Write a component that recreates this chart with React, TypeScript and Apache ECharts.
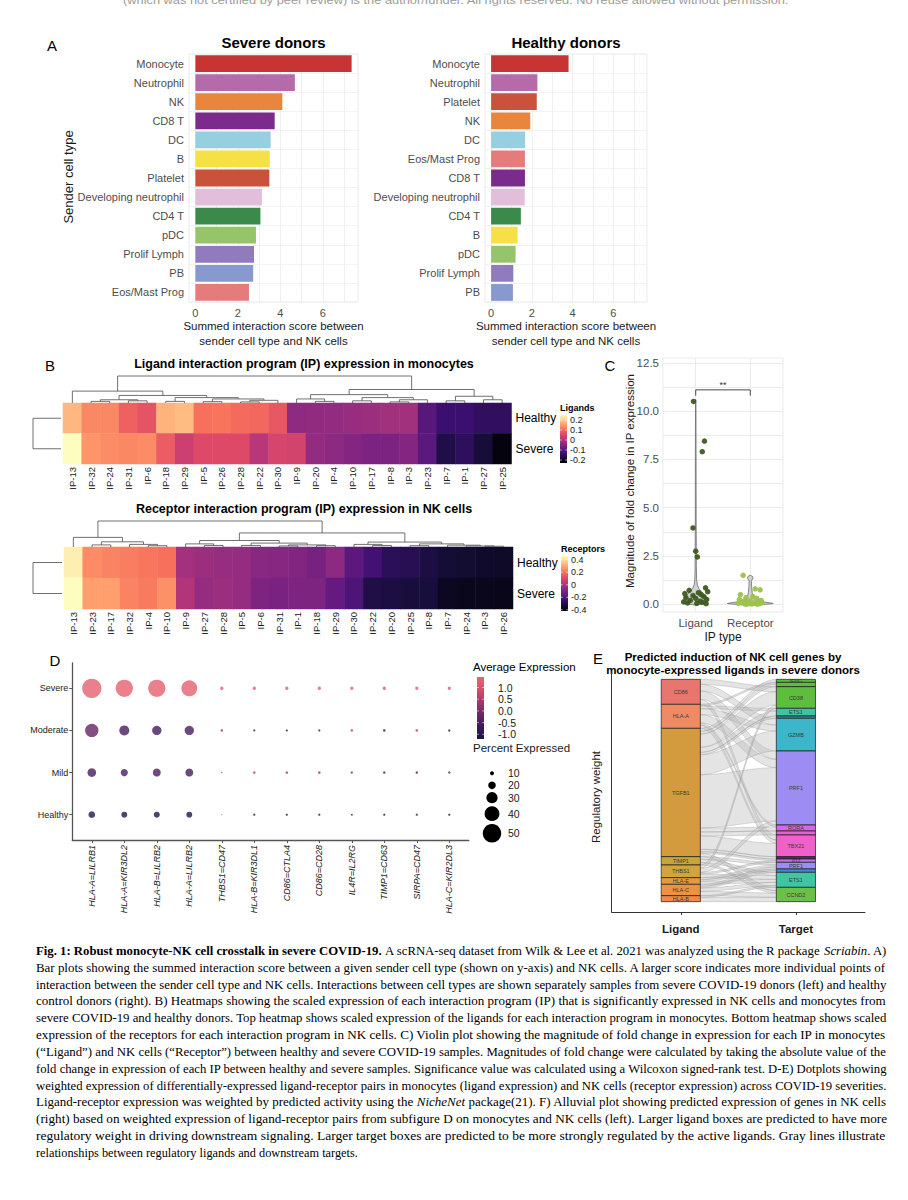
import React, { useEffect, useRef } from "react";
import * as echarts from "echarts";

const SANS = "'Liberation Sans', Arial, Helvetica, sans-serif";
const SERIF = "'Liberation Serif', 'Times New Roman', Times, serif";

// ---------------- Panel A ----------------
const severeCells = ["Monocyte", "Neutrophil", "NK", "CD8 T", "DC", "B", "Platelet", "Developing neutrophil", "CD4 T", "pDC", "Prolif Lymph", "PB", "Eos/Mast Prog"];
const severeScores = [7.35, 4.68, 4.09, 3.73, 3.54, 3.5, 3.48, 3.13, 3.06, 2.85, 2.76, 2.72, 2.52];
const healthyCells = ["Monocyte", "Neutrophil", "Platelet", "NK", "DC", "Eos/Mast Prog", "CD8 T", "Developing neutrophil", "CD4 T", "B", "pDC", "Prolif Lymph", "PB"];
const healthyScores = [3.8, 2.27, 2.24, 1.92, 1.67, 1.66, 1.66, 1.65, 1.46, 1.3, 1.2, 1.09, 1.07];
const cellColors: Record<string, string> = {
  Monocyte: "#c83434", Neutrophil: "#b56aa9", NK: "#e8863e", "CD8 T": "#7a2b8b", DC: "#96cfe0",
  B: "#f5e146", Platelet: "#c8533a", "Developing neutrophil": "#e1bfdb", "CD4 T": "#3b8a4b",
  pDC: "#96c46b", "Prolif Lymph": "#8f7bbd", PB: "#8899d0", "Eos/Mast Prog": "#e57b7b",
};
const scoreTicks = [0, 2, 4, 6];
const scoreGrid = [0, 1, 2, 3, 4, 5, 6, 7];

// ---------------- Panel B ----------------
const ligandIPs = ["IP-13", "IP-32", "IP-24", "IP-31", "IP-6", "IP-18", "IP-29", "IP-5", "IP-26", "IP-28", "IP-22", "IP-30", "IP-9", "IP-20", "IP-4", "IP-10", "IP-17", "IP-8", "IP-3", "IP-23", "IP-7", "IP-1", "IP-27", "IP-25"];
const ligandHealthy = [0.178, 0.13, 0.13, 0.087, 0.072, 0.173, 0.183, 0.106, 0.11, 0.1, 0.096, 0.077, -0.035, -0.032, -0.03, -0.025, -0.02, -0.015, -0.015, -0.1, -0.134, -0.134, -0.148, -0.148];
const ligandSevere = [0.25, 0.144, 0.135, 0.13, 0.135, 0.082, 0.034, 0.058, 0.058, 0.058, 0.01, 0.048, 0.044, -0.03, -0.038, -0.048, -0.057, -0.057, -0.048, -0.096, -0.168, -0.15, -0.18, -0.22];
const ligandRange = [-0.23, 0.25];
const ligandTicks = [0.2, 0.1, 0, -0.1, -0.2];

const receptorIPs = ["IP-13", "IP-23", "IP-17", "IP-32", "IP-4", "IP-10", "IP-9", "IP-27", "IP-28", "IP-5", "IP-6", "IP-31", "IP-1", "IP-18", "IP-29", "IP-30", "IP-22", "IP-20", "IP-25", "IP-8", "IP-7", "IP-24", "IP-3", "IP-26"];
const receptorHealthy = [0.434, 0.249, 0.231, 0.222, 0.205, 0.196, -0.02, -0.035, -0.045, -0.05, -0.075, -0.08, -0.09, -0.115, -0.065, -0.174, -0.226, -0.279, -0.288, -0.314, -0.332, -0.341, -0.35, -0.358];
const receptorSevere = [0.46, 0.284, 0.284, 0.231, 0.214, 0.258, 0.01, -0.05, -0.035, -0.05, -0.1, -0.108, -0.1, -0.1, -0.156, -0.2, -0.306, -0.314, -0.323, -0.323, -0.367, -0.376, -0.376, -0.385];
const receptorRange = [-0.42, 0.46];
const receptorTicks = [0.4, 0.2, 0, -0.2, -0.4];
const heatRows = ["Healthy", "Severe"];

type Tree = number | [number, Tree, Tree];
const ligandTree: Tree = [1,
  [0.44, 0, [0.28, [0.12, [0.06, 1, 2], [0.08, 3, 4]], [0.2, [0.06, 5, 6], [0.15, [0.05, 7, 8], [0.1, [0.04, 9, 10], 11]]]]],
  [0.5, [0.31, [0.15, 12, [0.06, 13, 14]], [0.2, [0.08, 15, 16], [0.12, [0.04, 17, 18], 19]]], [0.25, [0.08, 20, 21], [0.12, 22, 23]]],
];
const receptorTree: Tree = [1,
  [0.37, 0, [0.2, [0.08, 1, 2], [0.1, 3, [0.05, 4, 5]]]],
  [0.54, [0.25, [0.12, 6, [0.06, 7, 8]], [0.15, [0.06, 9, 10], [0.08, [0.04, 11, 12], [0.05, 13, 14]]]],
    [0.19, [0.1, 15, [0.06, 16, 17]], [0.12, [0.05, 18, 19], [0.07, 20, [0.04, 21, [0.03, 22, 23]]]]]],
];

const MAGMA = ["#000004", "#140e36", "#3b0f70", "#641a80", "#8c2981", "#b73779", "#de4968", "#f7705c", "#fe9f6d", "#fecf92", "#fcfdbf"];

// ---------------- Panel C ----------------
const ipTypes = ["Ligand", "Receptor"];
const ligandFC = [10.5, 8.45, 7.9, 3.95, 2.75, 2.45, 0.85, 0.72, 0.65, 0.6, 0.55, 0.5, 0.45, 0.4, 0.35, 0.3, 0.25, 0.2, 0.16, 0.12, 0.1, 0.07, 0.05, 0.03];
const ligandJitter = [-0.04, 0.16, 0.12, -0.05, 0.0, 0.03, 0.18, -0.12, 0.22, 0.05, -0.2, 0.1, -0.05, 0.15, -0.18, 0.0, 0.2, -0.1, 0.08, -0.22, 0.12, -0.15, 0.02, 0.19];
const receptorFC = [1.5, 0.8, 0.75, 0.5, 0.4, 0.35, 0.3, 0.25, 0.2, 0.18, 0.15, 0.12, 0.1, 0.08, 0.07, 0.06, 0.05, 0.04, 0.03, 0.03, 0.02, 0.02, 0.01, 0.01];
const receptorJitter = [-0.13, 0.09, 0.18, -0.18, 0.05, -0.08, 0.12, -0.2, 0.2, 0.0, -0.12, 0.15, -0.05, 0.22, -0.16, 0.07, -0.22, 0.1, -0.02, 0.17, -0.1, 0.03, 0.13, -0.07];
// violin half-width profiles [value, half width in category units]
const ligandViolin = [[-0.05, 0], [0, 0.1], [0.1, 0.19], [0.25, 0.22], [0.4, 0.19], [0.6, 0.12], [0.8, 0.06], [1.0, 0.03], [1.3, 0.016], [2, 0.011], [3, 0.01], [4, 0.008], [6, 0.007], [8, 0.006], [10.5, 0.004], [10.6, 0]];
const receptorViolin = [[-0.03, 0], [0, 0.3], [0.04, 0.42], [0.08, 0.35], [0.15, 0.15], [0.25, 0.08], [0.4, 0.05], [0.6, 0.035], [0.9, 0.025], [1.2, 0.02], [1.35, 0.05], [1.45, 0.04], [1.5, 0]];
const fcLabelTicks = [0, 2.5, 5, 7.5, 10, 12.5];
const fcGridTicks = [0, 1.25, 2.5, 3.75, 5, 6.25, 7.5, 8.75, 10, 11.25, 12.5];

// ---------------- Panel D ----------------
const pairs = ["HLA-A=LILRB1", "HLA-A=KIR3DL2", "HLA-B=LILRB2", "HLA-A=LILRB2", "THBS1=CD47", "HLA-B=KIR3DL1", "CD86=CTLA4", "CD86=CD28", "IL4R=IL2RG", "TIMP1=CD63", "SIRPA=CD47", "HLA-C=KIR2DL3"];
const severities = ["Healthy", "Mild", "Moderate", "Severe"];
const pctHealthy = [17.5, 15.5, 15.5, 15.5, 1.5, 5, 5, 5, 4, 5, 5, 5];
const pctMild = [23, 19, 21, 21, 2.5, 6, 6.5, 6.5, 5, 6, 6, 5.5];
const pctModerate = [36, 26.7, 24.7, 24.7, 6, 5, 5, 5, 6.5, 6, 6.5, 5.5];
const pctSevere = [52.5, 47, 47, 43, 8.5, 8.5, 8.5, 8.5, 8, 8.5, 8, 8];
const exprHealthy = [-1.05, -1.1, -1.1, -1.1, -0.8, -0.9, -0.9, -0.9, -0.9, -1.0, -0.9, -1.0];
const exprMild = [-0.55, -0.55, -0.5, -0.55, 0.3, 0.4, 0.6, 0.5, -0.3, -0.4, -0.3, -0.3];
const exprModerate = [-0.25, -0.55, -0.6, -0.55, 0.3, -0.7, -0.7, -0.7, 0.8, -0.75, 0.7, -0.8];
const exprSevere = [1.35, 1.35, 1.35, 1.35, 1.3, 1.3, 1.3, 1.3, 1.3, 1.3, 1.3, 1.3];
const exprRange = [-1.2, 1.45];
const exprTicks = [1.0, 0.5, 0.0, -0.5, -1.0];
const pctTicks = [10, 20, 30, 40, 50];
const DOT_COLORS = ["#1a1445", "#3d1a5b", "#6e2667", "#a8366d", "#d4506e", "#e8646e"];

// ---------------- Panel E ----------------
const ligands = ["CD86", "HLA-A", "TGFB1", "TIMP1", "THBS1", "HLA-E", "HLA-C", "HLA-B"];
const ligandColors = ["#e8766f", "#ee8b65", "#d39b3d", "#c8a53c", "#d3a43d", "#e49a3e", "#ec9240", "#ee8a4c"];
const targets = ["IFNG", "", "CD38", "ETS1", "", "GZMB", "PRF1", "RORA", "", "TBX21", "", "ID2", "PRF1", "", "ETS1", "CCND2"];
const targetColors = ["#5dbe3d", "#5dbe3d", "#5dbe3d", "#3ec49f", "#2f8e95", "#3db5cb", "#9d8df2", "#dc63e6", "#e060d6", "#ef61c9", "#6b2381", "#c070e0", "#9d8df2", "#3d8bd6", "#3ec6a3", "#6bc147"];
// [ligand index, target index, regulatory weight]
const flows: [number, number, number][] = [
  [0, 2, 15], [0, 5, 20], [0, 6, 25], [0, 9, 15],
  [1, 1, 5], [1, 3, 8], [1, 5, 18], [1, 6, 25], [1, 7, 6], [1, 9, 10],
  [2, 0, 9], [2, 1, 8], [2, 2, 40], [2, 3, 15], [2, 4, 7], [2, 5, 60], [2, 6, 160], [2, 7, 12], [2, 8, 12], [2, 9, 40], [2, 10, 7], [2, 11, 5], [2, 15, 10],
  [3, 12, 8], [3, 14, 10], [3, 15, 7],
  [4, 2, 10], [4, 6, 12], [4, 11, 5], [4, 14, 11],
  [5, 12, 6], [5, 13, 5], [5, 14, 9],
  [6, 12, 6], [6, 13, 5], [6, 14, 10], [6, 15, 13],
  [7, 14, 5], [7, 15, 13],
];

// ---------------- Caption ----------------
const NB = "\u00a0";
const captionLines: [string, string][][] = [
  [["b", "Fig. 1: Robust monocyte-NK cell crosstalk in severe COVID-19."], ["n", NB + "A scRNA-seq dataset from Wilk & Lee et al. 2021 was analyzed using the R package" + NB], ["i", "Scriabin"], ["n", ". A)"]],
  [["n", "Bar plots showing the summed interaction score between a given sender cell type (shown on y-axis) and NK cells. A larger score indicates more individual points of"]],
  [["n", "interaction between the sender cell type and NK cells. Interactions between cell types are shown separately samples from severe COVID-19 donors (left) and healthy"]],
  [["n", "control donors (right). B) Heatmaps showing the scaled expression of each interaction program (IP) that is significantly expressed in NK cells and monocytes from"]],
  [["n", "severe COVID-19 and healthy donors. Top heatmap shows scaled expression of the ligands for each interaction program in monocytes. Bottom heatmap shows scaled"]],
  [["n", "expression of the receptors for each interaction program in NK cells. C) Violin plot showing the magnitude of fold change in expression for each IP in monocytes"]],
  [["n", "(\u201cLigand\u201d) and NK cells (\u201cReceptor\u201d) between healthy and severe COVID-19 samples. Magnitudes of fold change were calculated by taking the absolute value of the"]],
  [["n", "fold change in expression of each IP between healthy and severe samples. Significance value was calculated using a Wilcoxon signed-rank test. D-E) Dotplots showing"]],
  [["n", "weighted expression of differentially-expressed ligand-receptor pairs in monocytes (ligand expression) and NK cells (receptor expression) across COVID-19 severities."]],
  [["n", "Ligand-receptor expression was weighted by predicted activity using the" + NB], ["i", "NicheNet"], ["n", NB + "package(21). F) Alluvial plot showing predicted expression of genes in NK cells"]],
  [["n", "(right) based on weighted expression of ligand-receptor pairs from subfigure D on monocytes and NK cells (left). Larger ligand boxes are predicted to have more"]],
  [["n", "regulatory weight in driving downstream signaling. Larger target boxes are predicted to be more strongly regulated by the active ligands. Gray lines illustrate"]],
  [["n", "relationships between regulatory ligands and downstream targets."]],
];
const headerText = "(which was not certified by peer review) is the author/funder. All rights reserved. No reuse allowed without permission.";

function layoutTree(n: Tree, segs: number[][][]): { x: number; h: number } {
  if (typeof n === "number") return { x: n, h: 0 };
  const [h, l, r] = n;
  const a = layoutTree(l, segs);
  const b = layoutTree(r, segs);
  segs.push([[a.x, a.h], [a.x, h], [b.x, h], [b.x, b.h]]);
  return { x: (a.x + b.x) / 2, h };
}

function polySeries(idx: number, segs: number[][][], color: string, width: number) {
  return {
    type: "custom", xAxisIndex: idx, yAxisIndex: idx, silent: true, clip: false, data: [[0, 0]],
    renderItem: (_p: any, api: any) => ({
      type: "group",
      children: segs.map((s) => ({ type: "polyline", shape: { points: s.map((pt) => api.coord(pt)) }, style: { stroke: color, lineWidth: width, fill: "none" } })),
    }),
  };
}

function txt(text: string, x: number, y: number, o: any = {}) {
  const { rotation, scaleX, ...st } = o;
  const align = st.align || "left";
  const va = st.verticalAlign || "middle";
  return {
    type: "text", x, y, rotation: rotation || 0, scaleX: scaleX || 1, silent: true,
    style: { text, fontFamily: SANS, fontSize: 11, fill: "#1a1a1a", ...st, align, verticalAlign: va, textAlign: align, textVerticalAlign: va },
  };
}

function buildOption() {
  const ctx = document.createElement("canvas").getContext("2d") as CanvasRenderingContext2D;
  const measure = (t: string, font: string) => { ctx.font = font; return ctx.measureText(t).width; };

  const G = {
    aSev: { left: 189, top: 54, width: 169, height: 248 },
    aHea: { left: 485, top: 54, width: 162, height: 248 },
    bLig: { left: 63, top: 403, width: 448.5, height: 61 },
    bLigD: { left: 63, top: 376, width: 448.5, height: 27 },
    bRec: { left: 64, top: 547, width: 449, height: 62 },
    bRecD: { left: 64, top: 521, width: 449, height: 26 },
    c: { left: 663, top: 358, width: 120, height: 254 },
    d: { left: 72.3, top: 663, width: 396.5, height: 177 },
    e: { left: 611.7, top: 673, width: 253.3, height: 239 },
  };
  const grids = [G.aSev, G.aHea, G.bLig, G.bLigD, G.bRec, G.bRecD, G.c, G.d, G.e].map((g, i) => ({
    ...g, show: i === 0 || i === 1 || i === 6, borderColor: "#ebebeb", borderWidth: 1, backgroundColor: "transparent",
  }));

  const scoreX = (gi: number) => ({
    gridIndex: gi, type: "value", min: -0.3, max: 7.65,
    axisLine: { show: false }, axisTick: { show: false, customValues: scoreGrid },
    axisLabel: { customValues: scoreTicks, color: "#4d4d4d", fontSize: 11, fontFamily: SANS, margin: 5 },
    splitLine: { show: true, lineStyle: { color: "#ebebeb", width: 0.8 } },
    name: "Summed interaction score between\nsender cell type and NK cells", nameLocation: "middle", nameGap: 13,
    nameTextStyle: { color: "#1a1a1a", fontSize: 11.5, fontFamily: SANS, lineHeight: 14.6 },
  });
  const cellY = (gi: number, cells: string[]) => ({
    gridIndex: gi, type: "category", data: cells, inverse: true,
    axisLine: { show: false }, axisTick: { show: false },
    axisLabel: { color: "#4d4d4d", fontSize: 11, fontFamily: SANS, margin: 5, interval: 0 },
    splitLine: { show: true, interval: 0, lineStyle: { color: "#f0f0f0", width: 0.8 } },
  });
  const heatX = (gi: number, cols: string[]) => ({
    gridIndex: gi, type: "category", data: cols, axisLine: { show: false }, axisTick: { show: false },
    axisLabel: { rotate: 90, interval: 0, fontSize: 9.5, color: "#1a1a1a", fontFamily: SANS, margin: 3 }, splitLine: { show: false },
  });
  const heatY = (gi: number) => ({
    gridIndex: gi, type: "category", data: heatRows, inverse: true, position: "right",
    axisLine: { show: false }, axisTick: { show: false },
    axisLabel: { fontSize: 12, color: "#000", fontFamily: SANS, margin: 4 }, splitLine: { show: false },
  });
  const hidden = (gi: number, min: number, max: number) => ({ gridIndex: gi, type: "value", min, max, show: false, splitLine: { show: false } });
  const intLabel = (names: string[]) => (v: number) => (Math.abs(v - Math.round(v)) < 1e-6 ? names[Math.round(v) - 1] ?? "" : "");

  const xAxis: any[] = [
    scoreX(0), scoreX(1),
    heatX(2, ligandIPs), hidden(3, -0.5, 23.5),
    heatX(4, receptorIPs), hidden(5, -0.5, 23.5),
    {
      gridIndex: 6, type: "value", min: 0.4, max: 2.6, axisLine: { show: false },
      axisTick: { show: false, customValues: [1, 2] },
      axisLabel: { customValues: [1, 2], formatter: intLabel(ipTypes), fontSize: 11.5, color: "#4d4d4d", fontFamily: SANS, margin: 5 },
      splitLine: { show: true, lineStyle: { color: "#ebebeb" } },
      name: "IP type", nameLocation: "middle", nameGap: 19, nameTextStyle: { fontSize: 12, color: "#1a1a1a", fontFamily: SANS },
    },
    {
      gridIndex: 7, type: "value", min: 0.4, max: 12.6,
      axisLine: { show: true, onZero: false, lineStyle: { color: "#555", width: 1.3 } },
      axisTick: { show: true, customValues: pairs.map((_, i) => i + 1), length: 3, lineStyle: { color: "#555" } },
      axisLabel: { customValues: pairs.map((_, i) => i + 1), formatter: intLabel(pairs), rotate: 90, fontSize: 9, fontStyle: "italic", color: "#222", fontFamily: SANS, margin: 5 },
      splitLine: { show: false },
    },
    {
      gridIndex: 8, type: "value", min: 0.4, max: 2.6,
      axisLine: { show: true, onZero: false, lineStyle: { color: "#333", width: 1 } },
      axisTick: { show: true, customValues: [1, 2], length: 3, lineStyle: { color: "#333" } },
      axisLabel: { customValues: [1, 2], formatter: intLabel(["Ligand", "Target"]), fontSize: 11.5, fontWeight: "bold", color: "#1a1a1a", fontFamily: SANS, margin: 11 },
      splitLine: { show: false },
    },
  ];
  const yAxis: any[] = [
    cellY(0, severeCells), cellY(1, healthyCells),
    heatY(2), hidden(3, 0, 1),
    heatY(4), hidden(5, 0, 1),
    {
      gridIndex: 6, type: "value", min: -0.4, max: 12.75, axisLine: { show: false },
      axisTick: { show: false, customValues: fcGridTicks },
      axisLabel: { customValues: fcLabelTicks, formatter: (v: number) => v.toFixed(1), fontSize: 11.5, color: "#4d4d4d", fontFamily: SANS, margin: 4 },
      splitLine: { show: true, lineStyle: { color: "#ebebeb" } },
    },
    {
      gridIndex: 7, type: "value", min: 0.4, max: 4.6,
      axisLine: { show: true, onZero: false, lineStyle: { color: "#555", width: 1.3 } },
      axisTick: { show: true, customValues: [1, 2, 3, 4], length: 3, lineStyle: { color: "#555" } },
      axisLabel: { customValues: [1, 2, 3, 4], formatter: intLabel(severities), fontSize: 9, color: "#222", fontFamily: SANS, margin: 4 },
      splitLine: { show: false },
    },
    {
      gridIndex: 8, type: "value", min: -31, max: 686,
      axisLine: { show: true, onZero: false, lineStyle: { color: "#333", width: 1 } },
      axisTick: { show: false }, axisLabel: { show: false }, splitLine: { show: false },
    },
  ];

  const ligSegs: number[][][] = [];
  layoutTree(ligandTree, ligSegs);
  const recSegs: number[][][] = [];
  layoutTree(receptorTree, recSegs);

  // ---- alluvial geometry ----
  const ligH = ligands.map((_, i) => flows.filter((f) => f[0] === i).reduce((s, f) => s + f[2], 0));
  const tarH = targets.map((_, j) => flows.filter((f) => f[1] === j).reduce((s, f) => s + f[2], 0));
  const total = ligH.reduce((a, b) => a + b, 0);
  const ligTop: number[] = [];
  ligH.reduce((acc, h, i) => { ligTop[i] = acc; return acc - h; }, total);
  const tarTop: number[] = [];
  tarH.reduce((acc, h, j) => { tarTop[j] = acc; return acc - h; }, total);
  const geo = flows.map((f) => ({ f, lt: 0, lb: 0, rt: 0, rb: 0 }));
  const lcur = ligTop.slice();
  [...geo].sort((a, b) => a.f[0] - b.f[0] || a.f[1] - b.f[1]).forEach((g) => { g.lt = lcur[g.f[0]]; g.lb = g.lt - g.f[2]; lcur[g.f[0]] = g.lb; });
  const tcur = tarTop.slice();
  [...geo].sort((a, b) => a.f[1] - b.f[1] || a.f[0] - b.f[0]).forEach((g) => { g.rt = tcur[g.f[1]]; g.rb = g.rt - g.f[2]; tcur[g.f[1]] = g.rb; });
  const HW = 0.17;
  const boxes = [
    ...ligands.map((n, i) => ({ x: 1, top: ligTop[i], bottom: ligTop[i] - ligH[i], color: ligandColors[i], label: n })),
    ...targets.map((n, j) => ({ x: 2, top: tarTop[j], bottom: tarTop[j] - tarH[j], color: targetColors[j], label: n })),
  ];

  const dotSize = (p: number) => 0.36 * p + 0.4;
  const pctRows = [pctHealthy, pctMild, pctModerate, pctSevere];
  const exprRows = [exprHealthy, exprMild, exprModerate, exprSevere];
  const dotData: number[][] = [];
  pctRows.forEach((row, r) => row.forEach((p, c) => dotData.push([c + 1, r + 1, exprRows[r][c], p])));

  const series: any[] = [
    { type: "bar", xAxisIndex: 0, yAxisIndex: 0, silent: true, barCategoryGap: "12%", data: severeScores.map((v, i) => ({ value: v, itemStyle: { color: cellColors[severeCells[i]] } })) },
    { type: "bar", xAxisIndex: 1, yAxisIndex: 1, silent: true, barCategoryGap: "12%", data: healthyScores.map((v, i) => ({ value: v, itemStyle: { color: cellColors[healthyCells[i]] } })) },
    { type: "heatmap", xAxisIndex: 2, yAxisIndex: 2, silent: true, data: [...ligandHealthy.map((v, i) => [i, 0, v]), ...ligandSevere.map((v, i) => [i, 1, v])] },
    polySeries(3, ligSegs, "#4d4d4d", 0.8),
    { type: "heatmap", xAxisIndex: 4, yAxisIndex: 4, silent: true, data: [...receptorHealthy.map((v, i) => [i, 0, v]), ...receptorSevere.map((v, i) => [i, 1, v])] },
    polySeries(5, recSegs, "#4d4d4d", 0.8),
    {
      type: "custom", xAxisIndex: 6, yAxisIndex: 6, silent: true, clip: false, data: [[1, 0], [2, 0]], encode: { x: 0, y: 1 },
      renderItem: (_p: any, api: any) => {
        const g = api.value(0);
        const prof = g === 1 ? ligandViolin : receptorViolin;
        const right = prof.map(([y, w]) => api.coord([g + w, y]));
        const left = prof.slice().reverse().map(([y, w]) => api.coord([g - w, y]));
        return { type: "polygon", shape: { points: [...right, ...left] }, style: { fill: "rgba(200,200,200,0.8)", stroke: "#6b6b6b", lineWidth: 0.8 } };
      },
    },
    { type: "scatter", xAxisIndex: 6, yAxisIndex: 6, silent: true, clip: false, symbolSize: 5.5, itemStyle: { color: "#3d5a1f", opacity: 0.95 }, data: ligandFC.map((v, i) => [1 + ligandJitter[i], v]) },
    { type: "scatter", xAxisIndex: 6, yAxisIndex: 6, silent: true, clip: false, symbolSize: 5.5, itemStyle: { color: "#9dc24f", opacity: 0.95 }, data: receptorFC.map((v, i) => [2 + receptorJitter[i], v]) },
    {
      type: "custom", xAxisIndex: 6, yAxisIndex: 6, silent: true, clip: false, data: [[0, 0]],
      renderItem: (_p: any, api: any) => {
        const pts = [[1, 10.8], [1, 11.1], [2, 11.1], [2, 10.8]].map((p) => api.coord(p));
        const t = api.coord([1.5, 11.1]);
        return {
          type: "group", children: [
            { type: "polyline", shape: { points: pts }, style: { stroke: "#333", lineWidth: 0.9, fill: "none" } },
            { type: "text", x: t[0], y: t[1] - 5, style: { text: "**", fontSize: 9, fontFamily: SANS, fill: "#333", align: "center", verticalAlign: "middle", textAlign: "center", textVerticalAlign: "middle" } },
          ],
        };
      },
    },
    { type: "scatter", xAxisIndex: 7, yAxisIndex: 7, silent: true, clip: false, data: dotData, symbolSize: (v: number[]) => dotSize(v[3]) },
    {
      type: "custom", xAxisIndex: 8, yAxisIndex: 8, silent: true, clip: false, data: [[0, 0]],
      renderItem: (_p: any, api: any) => {
        const ch: any[] = [];
        const xL = 1 + HW, xR = 2 - HW, N = 24;
        geo.forEach((g) => {
          const pts: number[][] = [];
          for (let k = 0; k <= N; k++) { const s = k / N; const e = (1 - Math.cos(Math.PI * s)) / 2; pts.push(api.coord([xL + (xR - xL) * s, g.lt + (g.rt - g.lt) * e])); }
          for (let k = N; k >= 0; k--) { const s = k / N; const e = (1 - Math.cos(Math.PI * s)) / 2; pts.push(api.coord([xL + (xR - xL) * s, g.lb + (g.rb - g.lb) * e])); }
          ch.push({ type: "polygon", shape: { points: pts }, style: { fill: "rgba(190,190,190,0.42)", stroke: "rgba(130,130,130,0.55)", lineWidth: 0.5 } });
        });
        boxes.forEach((b) => {
          const p1 = api.coord([b.x - HW, b.top]);
          const p2 = api.coord([b.x + HW, b.bottom]);
          ch.push({ type: "rect", shape: { x: p1[0], y: p1[1], width: p2[0] - p1[0], height: p2[1] - p1[1] }, style: { fill: b.color, stroke: "#1a1a1a", lineWidth: 0.7 } });
          if (b.label) ch.push({ type: "text", x: (p1[0] + p2[0]) / 2, y: (p1[1] + p2[1]) / 2, style: { text: b.label, fontSize: 5.5, fontFamily: SANS, fill: "#3a3a3a", align: "center", verticalAlign: "middle", textAlign: "center", textVerticalAlign: "middle" } });
        });
        return { type: "group", children: ch };
      },
    },
  ];

  const visualMap = [
    { type: "continuous", show: false, seriesIndex: 2, dimension: 2, min: ligandRange[0], max: ligandRange[1], inRange: { color: MAGMA } },
    { type: "continuous", show: false, seriesIndex: 4, dimension: 2, min: receptorRange[0], max: receptorRange[1], inRange: { color: MAGMA } },
    { type: "continuous", show: false, seriesIndex: 10, dimension: 2, min: exprRange[0], max: exprRange[1], inRange: { color: DOT_COLORS } },
  ];

  // ---- graphic: titles, legends, caption ----
  const gfx: any[] = [];
  const hdrFont = `10.5px ${SANS}`;
  gfx.push(txt(headerText, 123, 0, { fontSize: 10.5, fill: "#9a9a9a", scaleX: 667 / measure(headerText, hdrFont) }));
  [["A", 52, 45], ["B", 50, 365], ["C", 610, 365], ["D", 55, 660], ["E", 598, 658]].forEach(([t, x, y]) =>
    gfx.push(txt(t as string, x as number, y as number, { fontSize: 15, fill: "#000", align: "center" })));
  gfx.push(txt("Severe donors", G.aSev.left + G.aSev.width / 2, 42, { fontSize: 15, fontWeight: "bold", fill: "#000", align: "center" }));
  gfx.push(txt("Healthy donors", G.aHea.left + G.aHea.width / 2, 42, { fontSize: 15, fontWeight: "bold", fill: "#000", align: "center" }));
  gfx.push(txt("Sender cell type", 68, 177, { fontSize: 13, align: "center", rotation: Math.PI / 2 }));
  gfx.push(txt("Ligand interaction program (IP) expression in monocytes", 304, 364, { fontSize: 12.5, fontWeight: "bold", fill: "#000", align: "center" }));
  gfx.push(txt("Receptor interaction program (IP) expression in NK cells", 304, 509, { fontSize: 12.5, fontWeight: "bold", fill: "#000", align: "center" }));
  // row dendrograms
  [G.bLig, G.bRec].forEach((g) => {
    const y1 = g.top + g.height / 4, y2 = g.top + (3 * g.height) / 4;
    gfx.push({ type: "polyline", silent: true, shape: { points: [[g.left - 2, y1], [33, y1], [33, y2], [g.left - 2, y2]] }, style: { stroke: "#4d4d4d", lineWidth: 0.8, fill: "none" } });
  });
  const colorbar = (x: number, y: number, w: number, h: number, range: number[], colors: string[], ticks: number[], title: string, fmt: (v: number) => string, titleOpt: any, labOpt: any) => {
    const stops = colors.map((c, i) => ({ offset: 1 - i / (colors.length - 1), color: c })).reverse();
    gfx.push(txt(title, x - (titleOpt.dx || 0), y - titleOpt.gap, { fontSize: titleOpt.size, fontWeight: titleOpt.weight, fill: "#000" }));
    gfx.push({ type: "rect", silent: true, shape: { x, y, width: w, height: h }, style: { fill: new echarts.graphic.LinearGradient(0, 0, 0, 1, stops) } });
    ticks.forEach((v) => {
      const ty = y + ((range[1] - v) / (range[1] - range[0])) * h;
      gfx.push({ type: "line", silent: true, shape: { x1: x, y1: ty, x2: x + w * 0.25, y2: ty }, style: { stroke: "#fff", lineWidth: 0.6 } });
      gfx.push({ type: "line", silent: true, shape: { x1: x + w * 0.75, y1: ty, x2: x + w, y2: ty }, style: { stroke: "#fff", lineWidth: 0.6 } });
      gfx.push(txt(fmt(v), x + w + labOpt.gap, ty, { fontSize: labOpt.size, fill: "#1a1a1a" }));
    });
  };
  const fmtShort = (v: number) => (v === 0 ? "0" : String(v));
  colorbar(560, 415, 7, 48, ligandRange, MAGMA, ligandTicks, "Ligands", fmtShort, { gap: 7, size: 9, weight: "bold" }, { gap: 3, size: 9 });
  colorbar(561, 556, 7, 55, receptorRange, MAGMA, receptorTicks, "Receptors", fmtShort, { gap: 7, size: 9, weight: "bold" }, { gap: 3, size: 9 });
  gfx.push(txt("Magnitude of fold change in IP expression", 630, 481, { fontSize: 11.5, align: "center", rotation: Math.PI / 2 }));
  // D legends
  colorbar(477, 677, 7, 62, exprRange, DOT_COLORS, exprTicks, "Average Expression", (v) => v.toFixed(1), { gap: 10, size: 11.5, weight: "normal", dx: 4 }, { gap: 14, size: 10.5 });
  gfx.push(txt("Percent Expressed", 473, 748, { fontSize: 11.5, fill: "#1a1a1a" }));
  let cy = 0;
  let prev = 0;
  pctTicks.forEach((p, i) => {
    const d = dotSize(p);
    cy = i === 0 ? 773.3 : Math.max(cy + 12, cy + prev / 2 + d / 2 + 3);
    prev = d;
    gfx.push({ type: "circle", silent: true, shape: { cx: 492, cy, r: d / 2 }, style: { fill: "#000" } });
    gfx.push(txt(String(p), 508, cy, { fontSize: 10.5 }));
  });
  // E titles
  gfx.push(txt("Predicted induction of NK cell genes by", 733, 657, { fontSize: 11.5, fontWeight: "bold", fill: "#000", align: "center" }));
  gfx.push(txt("monocyte-expressed ligands in severe donors", 733, 669.5, { fontSize: 11.5, fontWeight: "bold", fill: "#000", align: "center" }));
  gfx.push(txt("Regulatory weight", 596, 797, { fontSize: 11.5, align: "center", rotation: Math.PI / 2 }));

  // caption
  const CS = 12.3;
  const fonts: Record<string, string> = { n: `${CS}px ${SERIF}`, b: `bold ${CS}px ${SERIF}`, i: `italic ${CS}px ${SERIF}` };
  const capX = 36, capW = 851;
  captionLines.forEach((segs, li) => {
    const width = segs.reduce((s, [k, t]) => s + measure(t, fonts[k]), 0);
    const last = li === captionLines.length - 1;
    const sx = last ? 1 : capW / width;
    const text = segs.map(([k, t]) => `{${k}|${t}}`).join("");
    gfx.push({
      type: "text", x: capX, y: 951 + li * 16.83, scaleX: sx, silent: true,
      style: {
        text, fontFamily: SERIF, fontSize: CS, fill: "#000", align: "left", verticalAlign: "middle", textAlign: "left", textVerticalAlign: "middle",
        rich: {
          n: { fontFamily: SERIF, fontSize: CS, fill: "#000" },
          b: { fontFamily: SERIF, fontSize: CS, fontWeight: "bold", fill: "#000" },
          i: { fontFamily: SERIF, fontSize: CS, fontStyle: "italic", fill: "#000" },
        },
      },
    });
  });

  return {
    animation: false,
    backgroundColor: "#fff",
    textStyle: { fontFamily: SANS },
    grid: grids, xAxis, yAxis, series, visualMap, graphic: { elements: gfx },
  };
}

export default function App() {
  const ref = useRef<HTMLDivElement>(null);
  useEffect(() => {
    if (!ref.current) return;
    const chart = echarts.init(ref.current, null, { renderer: "svg", width: 908, height: 1200 });
    chart.setOption(buildOption() as any);
    return () => chart.dispose();
  }, []);
  return <div ref={ref} style={{ position: "absolute", left: 0, top: 0, width: 908, height: 1200, background: "#fff" }} />;
}
